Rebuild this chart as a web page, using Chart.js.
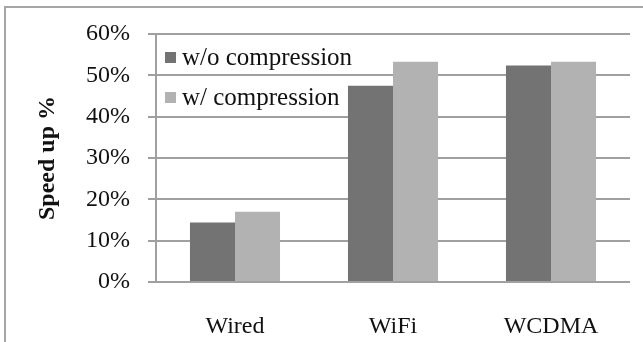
<!DOCTYPE html>
<html>
<head>
<meta charset="utf-8">
<script src="https://cdn.jsdelivr.net/npm/chart.js@4.4.0/dist/chart.umd.min.js"></script>
<style>
  html, body { margin: 0; padding: 0; background: #fff; }
  #wrap { width: 643px; height: 342px; position: relative; }
</style>
</head>
<body>
<div id="wrap"><canvas id="barChart" width="643" height="342"></canvas></div>
<script>
  'use strict';
  // categories and series (% speed up)
  var categories = ['Wired', 'WiFi', 'WCDMA'];
  var withoutCompression = [14.4, 47.5, 52.4];
  var withCompression = [17.0, 53.3, 53.3];
  var yTicks = [0, 10, 20, 30, 40, 50, 60];

  var serif = "'Liberation Serif', 'Times New Roman', serif";

  // outer frame line (left + top) like the original figure
  var framePlugin = {
    id: 'frame',
    beforeDraw: function(chart) {
      var ctx = chart.ctx;
      ctx.save();
      ctx.strokeStyle = '#a6a6a6';
      ctx.lineWidth = 2;
      ctx.beginPath();
      ctx.moveTo(5, 342);
      ctx.lineTo(5, 7);
      ctx.lineTo(643, 7);
      ctx.stroke();
      ctx.restore();
    }
  };

  // legend drawn inside the plot, top-left
  var insideLegend = {
    id: 'insideLegend',
    afterDatasetsDraw: function(chart) {
      var ctx = chart.ctx;
      var area = chart.chartArea;
      ctx.save();
      ctx.font = '25px ' + serif;
      ctx.textBaseline = 'middle';
      chart.data.datasets.forEach(function(ds, i) {
        var y = area.top + 24 + i * 40;
        ctx.fillStyle = ds.backgroundColor;
        ctx.fillRect(area.left + 9, y - 6, 11, 11);
        ctx.fillStyle = '#111';
        ctx.fillText(ds.label, area.left + 26, y);
      });
      ctx.restore();
    }
  };

  var ctx = document.getElementById('barChart').getContext('2d');
  var chart = new Chart(ctx, {
    type: 'bar',
    data: {
      labels: categories,
      datasets: [{
        label: 'w/o compression',
        data: withoutCompression,
        backgroundColor: '#737373',
        borderWidth: 0
      }, {
        label: 'w/ compression',
        data: withCompression,
        backgroundColor: '#b2b2b2',
        borderWidth: 0
      }]
    },
    options: {
      responsive: false,
      animation: false,
      layout: { padding: { top: 34, right: 13, left: 0, bottom: 0 } },
      plugins: {
        legend: { display: false },
        tooltip: { enabled: false }
      },
      datasets: {
        bar: { barPercentage: 1.0, categoryPercentage: 0.57 }
      },
      scales: {
        x: {
          grid: { display: false, drawTicks: false },
          border: { display: false },
          ticks: { color: '#111', font: { family: serif, size: 24 }, padding: 30 },
          afterFit: function(scale) { scale.height = 60; }
        },
        y: {
          min: 0,
          max: 60,
          afterBuildTicks: function(scale) {
            scale.ticks = yTicks.map(function(v) { return { value: v }; });
          },
          grid: { color: '#a0a0a0', lineWidth: 2, tickLength: 8 },
          border: { color: '#a0a0a0', width: 2 },
          ticks: {
            color: '#111',
            font: { family: serif, size: 24 },
            padding: 18,
            callback: function(v) { return v + '%'; }
          },
          title: {
            display: true,
            text: 'Speed up %',
            color: '#111',
            font: { family: serif, size: 24, weight: 'bold' },
            padding: { top: 33, bottom: 0 }
          },
          afterFit: function(scale) { scale.width = 156; }
        }
      }
    },
    plugins: [framePlugin, insideLegend]
  });
</script>
</body>
</html>
